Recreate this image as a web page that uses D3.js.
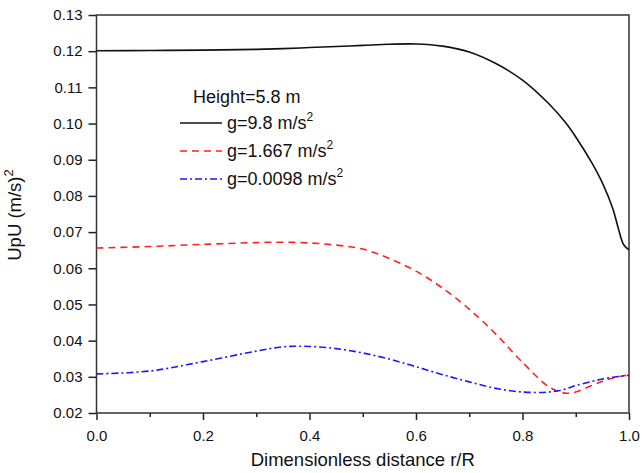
<!DOCTYPE html>
<html>
<head>
<meta charset="utf-8">
<script src="https://cdn.jsdelivr.net/npm/d3@7"></script>
<style>
  body { margin: 0; background: #fff; }
  svg { display: block; font-family: Arial, "Liberation Sans", sans-serif; }
</style>
</head>
<body>
<svg id="chart"></svg>
<script>
// radial position r/R, shared by all three curves
var rPos = [0, 0.1, 0.2, 0.3, 0.35, 0.4, 0.45, 0.5, 0.55, 0.6, 0.65, 0.7, 0.75, 0.8, 0.85, 0.88, 0.9, 0.93, 0.95, 0.97, 0.98, 0.99, 1.0];

// UpU values
var g98 = [0.1201, 0.1202, 0.1203, 0.1205, 0.1207, 0.1210, 0.1213, 0.1216, 0.1219, 0.1220, 0.1214, 0.1198, 0.1166, 0.1120, 0.1054, 0.1004, 0.0963, 0.0892, 0.0836, 0.0763, 0.0710, 0.0665, 0.0651];
var g1667 = [0.0656, 0.0660, 0.0666, 0.0671, 0.0672, 0.0670, 0.0664, 0.0653, 0.0627, 0.0592, 0.0545, 0.0487, 0.0418, 0.0340, 0.0272, 0.0255, 0.0258, 0.0276, 0.0288, 0.0297, 0.0300, 0.0303, 0.0305];
var g00098 = [0.0308, 0.0316, 0.0342, 0.0371, 0.0383, 0.0384, 0.0378, 0.0366, 0.0349, 0.0328, 0.0306, 0.0286, 0.0268, 0.0258, 0.0258, 0.0266, 0.0276, 0.0287, 0.0294, 0.0299, 0.0301, 0.0303, 0.0304];

var seriesNames = ["g=9.8 m/s", "g=1.667 m/s", "g=0.0098 m/s"];
var legendTitle = "Height=5.8 m";
var xTicks = [0, 0.2, 0.4, 0.6, 0.8, 1.0];
var xMinor = [0.1, 0.3, 0.5, 0.7, 0.9];
var yTicks = [0.02, 0.03, 0.04, 0.05, 0.06, 0.07, 0.08, 0.09, 0.10, 0.11, 0.12, 0.13];

var W = 642, H = 473;
var margin = {top: 15, right: 13, bottom: 60, left: 96.5};
var width = W - margin.left - margin.right,
    height = H - margin.top - margin.bottom;

var svg = d3.select("#chart").attr("width", W).attr("height", H);
var g = svg.append("g")
    .attr("transform", "translate(" + margin.left + "," + margin.top + ")");

var x = d3.scaleLinear().domain([0, 1]).range([0, width]);
var y = d3.scaleLinear().domain([0.02, 0.13]).range([height, 0]);

// minor x ticks
g.append("g")
    .attr("transform", "translate(0," + height + ")")
    .call(d3.axisBottom(x).tickValues(xMinor).tickSize(4).tickFormat(""))
    .call(function(s) { s.select(".domain").remove(); s.selectAll("line").attr("stroke", "#222").attr("stroke-width", 1.5); });

// x axis
var xAxis = g.append("g")
    .attr("transform", "translate(0," + height + ")")
    .call(d3.axisBottom(x).tickValues(xTicks).tickSize(7).tickPadding(10).tickFormat(d3.format(".1f")));

// y axis
var yAxis = g.append("g")
    .call(d3.axisLeft(y).tickValues(yTicks).tickSize(8).tickPadding(6).tickFormat(d3.format(".2f")));

[xAxis, yAxis].forEach(function(a) {
  a.selectAll("text").style("font-size", "15px").attr("fill", "#111");
  a.selectAll("line").attr("stroke", "#222").attr("stroke-width", 1.5);
  a.select(".domain").remove();
});

// frame
g.append("rect")
    .attr("width", width).attr("height", height)
    .attr("fill", "none").attr("stroke", "#333").attr("stroke-width", 1.5);

var series = [
  {vals: g98, color: "#111", dash: null},
  {vals: g1667, color: "#ff2020", dash: "7,5"},
  {vals: g00098, color: "#1a1aff", dash: "7,3,2,3"}
];

var line = d3.line()
    .x(function(d) { return x(d[0]); })
    .y(function(d) { return y(d[1]); })
    .curve(d3.curveCatmullRom.alpha(0.5));

series.forEach(function(s) {
  g.append("path")
      .datum(rPos.map(function(r, i) { return [r, s.vals[i]]; }))
      .attr("fill", "none")
      .attr("stroke", s.color)
      .attr("stroke-width", 1.6)
      .attr("stroke-dasharray", s.dash)
      .attr("d", line);
});

// legend
var leg = svg.append("g");
leg.append("text")
    .attr("x", 193).attr("y", 103)
    .style("font-size", "18px").attr("fill", "#111")
    .text(legendTitle);

series.forEach(function(s, i) {
  var yy = 123 + i * 28;
  leg.append("line")
      .attr("x1", 180).attr("x2", 222)
      .attr("y1", yy).attr("y2", yy)
      .attr("stroke", s.color).attr("stroke-width", 1.6)
      .attr("stroke-dasharray", s.dash);
  var t = leg.append("text")
      .attr("x", 227).attr("y", yy + 6)
      .style("font-size", "18px").attr("fill", "#111");
  t.append("tspan").text(seriesNames[i]);
  t.append("tspan").attr("dy", -8).style("font-size", "12px").text("2");
});

// axis titles
svg.append("text")
    .attr("x", margin.left + width / 2).attr("y", 466)
    .attr("text-anchor", "middle")
    .style("font-size", "18.5px").attr("fill", "#111")
    .text("Dimensionless distance r/R");

var yt = svg.append("text")
    .attr("transform", "translate(21," + 215 + ") rotate(-90)")
    .attr("text-anchor", "middle")
    .style("font-size", "18.5px").attr("fill", "#111");
yt.append("tspan").text("UpU (m/s)");
yt.append("tspan").attr("dy", -8).style("font-size", "13px").text("2");
</script>
</body>
</html>
